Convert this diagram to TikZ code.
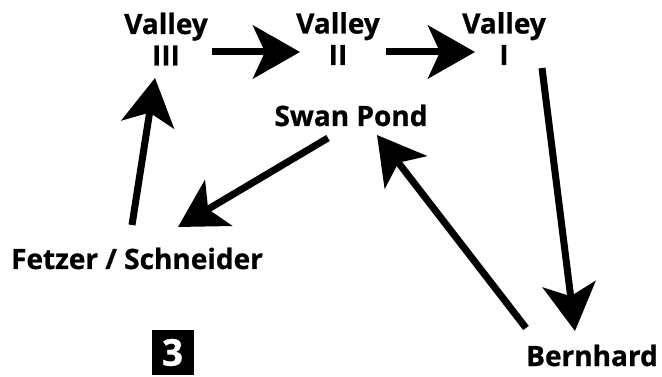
\documentclass[tikz,border=0pt]{standalone}
\usepackage{fontspec}
\setmainfont{Open Sans}[BoldFeatures={FakeBold=0.8}]
\usetikzlibrary{arrows.meta}
\begin{document}
\begin{tikzpicture}[x=1pt,y=-1pt,
  lbl/.style={font=\bfseries\fontsize{28}{31.5}\selectfont, align=center, inner sep=0pt},
  arr/.style={line width=7pt, -{Stealth[length=47pt,width=53pt,inset=12pt]}}]
\useasboundingbox (0,0) rectangle (662,377);
\node[lbl, anchor=base] (v3) at (166,65.5) {Valley\\III};
\node[lbl, anchor=base] (v2) at (338,65) {Valley\\II};
\node[lbl, anchor=base] (v1) at (504,65) {Valley\\I};
\node[lbl, anchor=base] (sp) at (351,126) {Swan Pond};
\node[lbl, anchor=base] (fs) at (137,269) {Fetzer / Schneider};
\node[lbl, anchor=base] (bh) at (592,366) {Bernhard};
\node[fill=black, text=white, inner sep=0pt, minimum width=42pt, minimum height=45pt,
  font=\bfseries\fontsize{37}{37}\selectfont] (three) at (172.5,352.5) {3};
\coordinate (a1s) at (212,52); \coordinate (a1e) at (300,52);
\coordinate (a2s) at (386,52); \coordinate (a2e) at (475,52);
\coordinate (a3s) at (542,68); \coordinate (a3e) at (575,331);
\coordinate (a4s) at (526,328); \coordinate (a4e) at (377,135);
\coordinate (a5s) at (328,138); \coordinate (a5e) at (178,227);
\coordinate (a6s) at (132,225); \coordinate (a6e) at (155,78);
\draw[arr] (a1s) -- (a1e);
\draw[arr] (a2s) -- (a2e);
\draw[arr] (a3s) -- (a3e);
\draw[arr] (a4s) -- (a4e);
\draw[arr] (a5s) -- (a5e);
\draw[arr] (a6s) -- (a6e);
\end{tikzpicture}
\end{document}
